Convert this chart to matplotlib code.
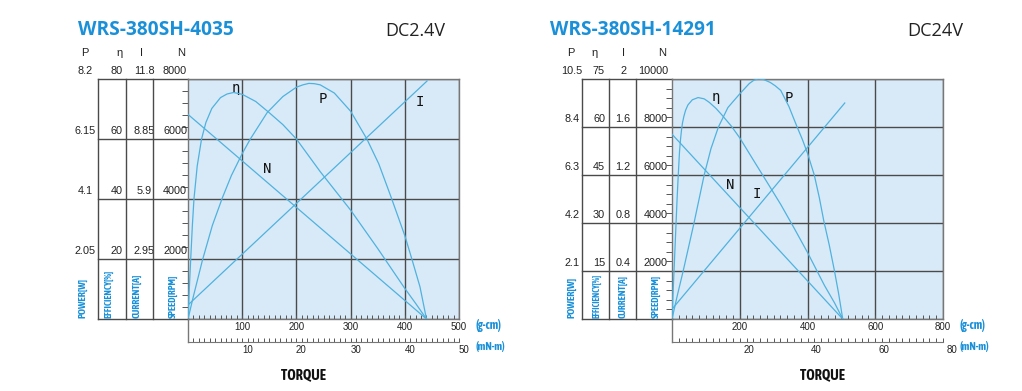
import matplotlib
matplotlib.use("Agg")
import matplotlib.pyplot as plt
import numpy as np
from matplotlib import font_manager as fm
from matplotlib.lines import Line2D
from matplotlib.transforms import ScaledTranslation, blended_transform_factory

W, H = 1022, 391

BG = "#d8eaf8"
CURVE = "#4fb2de"
GRID = "#4a4a4a"
BLUE = "#1a90d8"
TEXT = "#222222"

# ---- WRS-380SH-4035, DC2.4V ----
A_MODEL = "WRS-380SH-4035"
A_VOLT = "DC2.4V"
A_POWER_LABELS = ["2.05", "4.1", "6.15", "8.2"]
A_EFF_LABELS = ["20", "40", "60", "80"]
A_CUR_LABELS = ["2.95", "5.9", "8.85", "11.8"]
A_SPEED_TICKS = [2000, 4000, 6000, 8000]
A_GCM_TICKS = [100, 200, 300, 400, 500]
A_MNM_TICKS = [10, 20, 30, 40, 50]
A_SPEED_T = [0, 440]
A_SPEED = [6820, 0]
A_CUR_T = [0, 441]
A_CUR = [0.69, 11.7]
A_POWER_T = [0, 10, 26.5, 45, 63.6, 80, 100, 115, 146, 175, 200, 212, 223,
             233, 244, 270, 300, 330, 352, 374, 400, 413, 428, 440]
A_POWER = [0, 0.78, 2.0, 3.2, 4.15, 4.9, 5.65, 6.15, 7.05, 7.6, 7.92, 8.0,
           8.05, 8.04, 8.0, 7.72, 7.1, 6.15, 5.3, 4.2, 2.85, 2.05, 1.1, 0]
A_EFF_T = [0, 2, 5, 8, 11, 17, 25, 33, 44, 60, 72, 84, 100, 125, 149, 175,
           200, 244, 300, 350, 400, 420, 440]
A_EFF = [0, 8.5, 20, 31, 40, 51, 60, 65.5, 70.2, 73.8, 75.0, 75.5, 74.9, 72.5,
         68.9, 64.8, 60, 49.1, 36.3, 23.5, 10.2, 5.2, 0]

# ---- WRS-380SH-14291, DC24V ----
B_MODEL = "WRS-380SH-14291"
B_VOLT = "DC24V"
B_POWER_LABELS = ["2.1", "4.2", "6.3", "8.4", "10.5"]
B_EFF_LABELS = ["15", "30", "45", "60", "75"]
B_CUR_LABELS = ["0.4", "0.8", "1.2", "1.6", "2"]
B_SPEED_TICKS = [2000, 4000, 6000, 8000, 10000]
B_GCM_TICKS = [200, 400, 600, 800]
B_MNM_TICKS = [20, 40, 60, 80]
B_SPEED_T = [0, 504]
B_SPEED = [7700, 0]
B_CUR_T = [0, 510]
B_CUR = [0.082, 1.8]
B_POWER_T = [0, 16, 33, 49, 65, 80, 95, 115, 137, 165, 200, 228, 242, 255,
             270, 290, 305, 321, 345, 368, 385, 400, 420, 435, 448, 464, 479,
             492, 504]
B_POWER = [0, 1.05, 2.1, 3.15, 4.2, 5.25, 6.3, 7.45, 8.4, 9.25, 9.85, 10.3,
           10.45, 10.5, 10.48, 10.35, 10.2, 10.0, 9.3, 8.45, 7.85, 7.25, 6.3,
           5.3, 4.3, 3.25, 2.15, 1.1, 0]
B_EFF_T = [0, 3, 6, 9, 12, 15, 18, 22, 25, 28, 31, 35, 40, 47, 60, 77, 95,
           110, 130, 147, 175, 200, 240, 285, 321, 360, 400, 450, 480, 504]
B_EFF = [0, 8, 15, 22.5, 30, 37.5, 44, 52, 56, 59, 61.3, 63.3, 65.2, 66.9,
         68.5, 69.2, 68.8, 67.7, 65.8, 63.8, 60.3, 56.6, 49.7, 42, 35.8, 28.5,
         20.8, 10.5, 5, 0]

COL_TITLES = ["POWER[W]", "EFFICIENCY[%]", "CURRENT[A]", "SPEED[RPM]"]

charts = [
    dict(model=A_MODEL, volt=A_VOLT, p_lab=A_POWER_LABELS, e_lab=A_EFF_LABELS,
         c_lab=A_CUR_LABELS, s_ticks=A_SPEED_TICKS, gcm=A_GCM_TICKS, mnm=A_MNM_TICKS,
         gcm_minor=10, mnm_minor=1,
         curves=[(A_SPEED_T, A_SPEED, None), (A_CUR_T, A_CUR, A_CUR_LABELS),
                 (A_POWER_T, A_POWER, A_POWER_LABELS), (A_EFF_T, A_EFF, A_EFF_LABELS)],
         names=[("η", 89, 7700), ("P", 249, 7333), ("N", 146, 5000), ("I", 428, 7223)],
         # layout in pixels
         x0=188, x1=459, y0=79, y1=319, cols=[98, 126, 153], tab_bot=319,
         p_x=85.5, e_x=116.5, c_x=144.5, n_x=187,
         head=[85, 120, 141.5, 181], rot=[83, 109, 137, 173], rot_len=[40, 48, 44, 44],
         title_x=78, title_w=155, volt_x=385, volt_w=60, unit_x=475,
         torque_x=303, mnm_y=342, mnm_off=5),
    dict(model=B_MODEL, volt=B_VOLT, p_lab=B_POWER_LABELS, e_lab=B_EFF_LABELS,
         c_lab=B_CUR_LABELS, s_ticks=B_SPEED_TICKS, gcm=B_GCM_TICKS, mnm=B_MNM_TICKS,
         gcm_minor=20, mnm_minor=2,
         curves=[(B_SPEED_T, B_SPEED, None), (B_CUR_T, B_CUR, B_CUR_LABELS),
                 (B_POWER_T, B_POWER, B_POWER_LABELS), (B_EFF_T, B_EFF, B_EFF_LABELS)],
         names=[("η", 130, 9262), ("P", 345, 9208), ("N", 171, 5583), ("I", 250, 5208)],
         x0=672, x1=943, y0=79, y1=319, cols=[582, 609, 636], tab_bot=319,
         p_x=572, e_x=599, c_x=623, n_x=668,
         head=[571, 595, 623.5, 662], rot=[571.7, 597, 622.7, 656], rot_len=[41, 45, 43, 43],
         title_x=550, title_w=165, volt_x=907, volt_w=56, unit_x=960,
         torque_x=822, mnm_y=342, mnm_off=9),
]

plt.rcParams["font.family"] = ["Liberation Sans", "DejaVu Sans"]

# a narrow bold face if one is installed, else plain bold
narrow = fm.FontProperties(family="Liberation Sans", weight="bold")
for f in fm.fontManager.ttflist:
    if ("Narrow" in f.name or "Condensed" in f.name) and str(f.weight) in ("700", "bold"):
        narrow = fm.FontProperties(fname=f.fname)
        break

fig = plt.figure(figsize=(W / 100, H / 100), dpi=100)
fig.patch.set_facecolor("white")
fits = []


def fx(px):
    return px / W


def fy(py):
    return 1 - py / H


def fline(xs, ys, **kw):
    fig.add_artist(Line2D([fx(x) for x in xs], [fy(y) for y in ys],
                          transform=fig.transFigure, **kw))


for c in charts:
    x0, x1, y0, y1 = c["x0"], c["x1"], c["y0"], c["y1"]
    ax = fig.add_axes([fx(x0), fy(y1), (x1 - x0) / W, (y1 - y0) / H])
    ax.set_facecolor(BG)
    gmax = c["gcm"][-1]
    smax = c["s_ticks"][-1]

    # speed line on the main axes, the others on their own scales
    st, sv, _ = c["curves"][0]
    ax.plot(st, sv, color=CURVE, lw=0.9, zorder=3)
    for t, v, labs in c["curves"][1:]:
        tw = ax.twinx()
        tw.plot(t, v, color=CURVE, lw=0.9)
        tw.set_ylim(0, float(labs[-1]))
        tw.axis("off")

    ax.set_xlim(0, gmax)
    ax.set_ylim(0, smax)
    ax.set_xticks(c["gcm"])
    ax.set_xticklabels([str(v) for v in c["gcm"]])
    ax.set_xticks(np.arange(0, gmax + 1, c["gcm_minor"]), minor=True)
    ax.set_yticks([0] + c["s_ticks"])
    ax.set_yticks(np.arange(0, smax + 1, 400), minor=True)
    ax.tick_params(axis="x", which="both", direction="in", length=2.6, width=0.7,
                   colors="#555555", labelsize=7, labelcolor=TEXT, pad=2.5)
    ax.tick_params(axis="y", which="both", direction="out", length=4, width=0.7,
                   colors="#555555", labelleft=False)
    ax.grid(True, which="major", color=GRID, lw=1.0)
    ax.set_axisbelow(True)
    for sp in ax.spines.values():
        sp.set_color("#777777")
        sp.set_linewidth(1.0)

    for name, tx, ty in c["names"]:
        ax.text(tx, ty, name, fontsize=10, family="DejaVu Sans Mono",
                color="#111111", ha="center", va="center", zorder=5)

    # the table on the left
    blend = blended_transform_factory(fig.transFigure, ax.transData)
    up = ScaledTranslation(0, 2.5 / 72, fig.dpi_scale_trans)
    left = c["cols"][0]
    for s in c["s_ticks"]:
        ax.add_line(Line2D([fx(left), fx(x0)], [s, s], transform=blend,
                           color=GRID, lw=1.0, clip_on=False))
    fline([left, x0], [c["tab_bot"], c["tab_bot"]], color=GRID, lw=1.0)
    for cx in c["cols"]:
        fline([cx, cx], [y0, c["tab_bot"]], color=GRID, lw=1.0)
    fline([x0, x0], [y1, c["mnm_y"]], color="#777777", lw=1.0)

    for i, s in enumerate(c["s_ticks"]):
        kw = dict(transform=blend + up, fontsize=7.8, color=TEXT, va="bottom")
        ax.text(fx(c["p_x"]), s, c["p_lab"][i], ha="center", **kw)
        ax.text(fx(c["e_x"]), s, c["e_lab"][i], ha="center", **kw)
        ax.text(fx(c["c_x"]), s, c["c_lab"][i], ha="center", **kw)
        ax.text(fx(c["n_x"]), s, str(s), ha="right", **kw)

    for hx, lab in zip(c["head"], ["P", "η", "I", "N"]):
        fig.text(fx(hx), fy(53), lab, fontsize=8, color=TEXT, ha="center", va="center")

    for rx, lab, ln in zip(c["rot"], COL_TITLES, c["rot_len"]):
        t = fig.text(fx(rx), fy(318), lab, rotation=90, color=BLUE,
                     ha="center", va="bottom", fontproperties=narrow)
        fits.append((t, ln, True))

    # second torque scale in mN-m
    ax2 = fig.add_axes([fx(x0), fy(c["mnm_y"]), (x1 - x0) / W, 0.0005])
    ax2.patch.set_visible(False)
    for k in ("top", "left", "right"):
        ax2.spines[k].set_visible(False)
    ax2.spines["bottom"].set_color("#777777")
    ax2.set_xlim(0, c["mnm"][-1])
    ax2.set_yticks([])
    ax2.set_xticks(c["mnm"])
    ax2.set_xticklabels([str(v) for v in c["mnm"]])
    ax2.set_xticks(np.arange(0, c["mnm"][-1] + 1, c["mnm_minor"]), minor=True)
    ax2.tick_params(axis="x", which="both", direction="in", length=3, width=0.7,
                    colors="#555555", labelsize=7, labelcolor=TEXT, pad=2.5)
    shift = ScaledTranslation(c["mnm_off"] / 100, 0, fig.dpi_scale_trans)
    for lab in ax2.get_xticklabels():
        lab.set_transform(lab.get_transform() + shift)

    t = fig.text(fx(c["unit_x"]), fy(326), "(g-cm)", color=BLUE,
                 ha="left", va="center", fontproperties=narrow)
    fits.append((t, 26, False))
    t = fig.text(fx(c["unit_x"]), fy(347), "(mN-m)", color=BLUE,
                 ha="left", va="center", fontproperties=narrow)
    fits.append((t, 30, False))
    t = fig.text(fx(c["torque_x"]), fy(375), "TORQUE",
                 color="#111111", ha="center", va="center", fontproperties=narrow)
    fits.append((t, 45, False))

    t = fig.text(fx(c["title_x"]), fy(30), c["model"], fontsize=13, fontweight="bold",
                 color=BLUE, family="Open Sans", ha="left", va="center")
    fits.append((t, c["title_w"], False))
    t = fig.text(fx(c["volt_x"]), fy(31), c["volt"], fontsize=12, color="#222222",
                 family="Open Sans", ha="left", va="center")
    fits.append((t, c["volt_w"], False))

# scale a few texts to the lengths they have in the source picture
fig.canvas.draw()
rend = fig.canvas.get_renderer()
for t, target, vert in fits:
    bb = t.get_window_extent(rend)
    size = bb.height if vert else bb.width
    t.set_fontsize(t.get_fontsize() * target / size)

fig.savefig("out.png", dpi=100)
